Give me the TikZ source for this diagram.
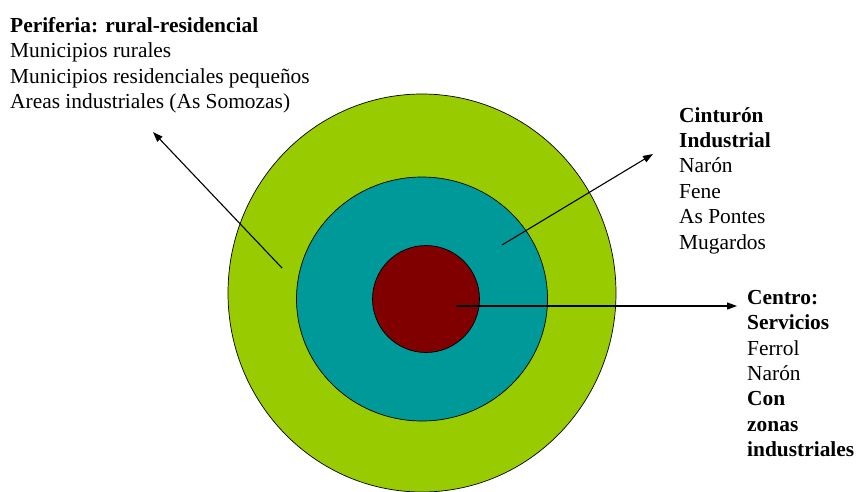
\documentclass[tikz,border=0pt]{standalone}
\usepackage{fontspec}
\setmainfont{Liberation Serif}
\usetikzlibrary{arrows.meta,shapes.geometric}
\definecolor{Periphery}{HTML}{99CC00}
\definecolor{Belt}{HTML}{009999}
\definecolor{Core}{HTML}{800000}

\begin{document}
\begin{tikzpicture}[x=1pt, y=-1pt,
  zone/.style={ellipse, draw=black, line width=0.7pt, inner sep=0pt},
  pointer/.style={-{Triangle[length=10pt,width=7pt]}, line width=1.1pt},
  blurb/.style={anchor=north west, inner sep=0pt, align=left,
    font=\fontsize{21.4}{25.4}\selectfont}
]
  \useasboundingbox (0,0) rectangle (858,491);

  % rings
  \node[zone, fill=Periphery, minimum width=388pt, minimum height=398pt] (outer) at (422,293) {};
  \node[zone, fill=Belt, minimum width=251pt, minimum height=244pt] (middle) at (422,299) {};
  \node[zone, fill=Core, minimum width=107pt, minimum height=107pt] (inner) at (426,299) {};

  % texts
  \node[blurb] (periferia) at (10,17) {\textbf{Periferia: rural-residencial}\\Municipios rurales\\Municipios residenciales pequeños\\Areas industriales (As Somozas)};
  \node[blurb] (cinturon) at (679,107) {\textbf{Cinturón}\\\textbf{Industrial}\\Narón\\Fene\\As Pontes\\Mugardos};
  \node[blurb] (centro) at (747,290) {\textbf{Centro:}\\\textbf{Servicios}\\Ferrol\\Narón\\\textbf{Con}\\\textbf{zonas}\\\textbf{industriales}};

  % arrows
  \coordinate (ptail) at (282,268);
  \coordinate (phead) at (153,132);
  \coordinate (ctail) at (502,245);
  \coordinate (chead) at (653,154);
  \coordinate (ntail) at (456,306);
  \coordinate (nhead) at (737,306);
  \draw[pointer] (ptail) -- (phead);
  \draw[pointer] (ctail) -- (chead);
  \draw[pointer] (ntail) -- (nhead);
\end{tikzpicture}
\end{document}
